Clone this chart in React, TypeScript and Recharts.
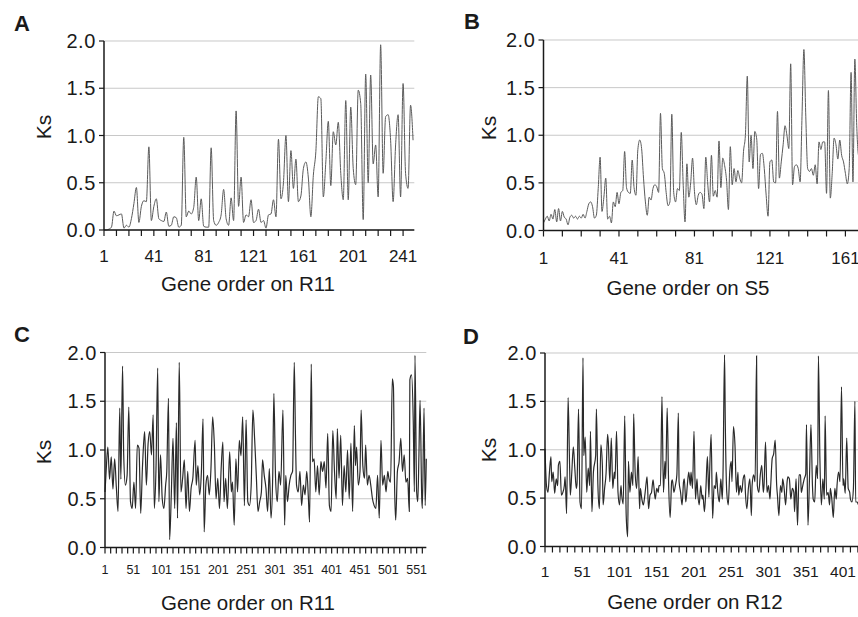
import { LineChart, Line, XAxis, YAxis, CartesianGrid } from "recharts"

const FONT = '"Liberation Sans", Arial, Helvetica, sans-serif'
const INK = "#1a1a1a"

type Pt = [number, number]

// [gene order, Ks]
const ksA: Pt[] = [
    [1, 0], [3, 0], [5, 0.01], [7, 0.03], [9, 0.2], [11, 0.15], [13, 0.16], [15, 0.17], [17, 0.02], [19, 0.05],
    [21, 0.03], [23, 0.12], [25, 0.28], [27, 0.45], [29, 0.08], [31, 0.25], [33, 0.31], [35, 0.3], [37, 0.88], [39, 0.1],
    [41, 0.25], [43, 0.33], [45, 0.12], [47, 0.1], [49, 0.09], [51, 0.19], [53, 0.04], [55, 0.05], [57, 0.14], [59, 0.13],
    [61, 0.03], [63, 0.05], [65, 0.98], [67, 0.14], [69, 0.2], [71, 0.17], [73, 0.24], [75, 0.56], [77, 0.1], [79, 0.33],
    [81, 0.04], [83, 0.03], [85, 0.03], [87, 0.87], [89, 0.1], [91, 0.05], [93, 0.08], [95, 0.16], [97, 0.43], [99, 0.12],
    [101, 0.05], [103, 0.34], [105, 0.1], [107, 1.26], [109, 0.25], [111, 0.56], [113, 0.08], [115, 0.16], [117, 0.14], [119, 0.32],
    [121, 0.08], [123, 0.1], [125, 0.22], [127, 0.08], [129, 0.1], [131, 0.02], [133, 0.16], [135, 0.17], [137, 0.32], [139, 0.14],
    [141, 0.96], [143, 0.33], [145, 0.5], [147, 1.0], [149, 0.3], [151, 0.84], [153, 0.44], [155, 0.75], [157, 0.3], [159, 0.36],
    [161, 0.65], [163, 0.72], [165, 0.55], [167, 0.14], [169, 0.58], [171, 0.83], [173, 1.41], [175, 1.39], [177, 0.35], [179, 0.72],
    [181, 1.15], [183, 0.47], [185, 1.04], [187, 0.9], [189, 1.14], [191, 0.6], [193, 0.32], [195, 1.37], [197, 0.32], [199, 1.3],
    [201, 0.65], [203, 0.48], [205, 1.48], [207, 1.34], [209, 0.11], [211, 1.65], [213, 0.5], [215, 1.64], [217, 0.7], [219, 0.9],
    [221, 0.35], [223, 1.96], [225, 0.6], [227, 1.2], [229, 1.22], [231, 0.95], [233, 0.3], [235, 0.9], [237, 1.22], [239, 0.35],
    [241, 1.55], [243, 0.6], [245, 0.44], [247, 1.32], [249, 0.95],
]

const ksB: Pt[] = [
    [1, 0.08], [2, 0.12], [3, 0.15], [4, 0.1], [5, 0.17], [6, 0.12], [7, 0.22], [8, 0.09], [9, 0.23], [10, 0.1],
    [11, 0.2], [12, 0.14], [13, 0.12], [14, 0.06], [15, 0.14], [16, 0.16], [17, 0.13], [18, 0.15], [19, 0.12], [20, 0.15],
    [21, 0.13], [22, 0.17], [23, 0.13], [24, 0.2], [25, 0.28], [26, 0.3], [27, 0.25], [28, 0.13], [29, 0.16], [30, 0.44],
    [31, 0.77], [32, 0.2], [33, 0.35], [34, 0.55], [35, 0.12], [36, 0.15], [37, 0.08], [38, 0.3], [39, 0.25], [40, 0.4],
    [41, 0.28], [42, 0.4], [43, 0.42], [44, 0.83], [45, 0.45], [46, 0.4], [47, 0.39], [48, 0.74], [49, 0.45], [50, 0.37],
    [51, 0.85], [52, 0.95], [53, 0.86], [54, 0.55], [55, 0.3], [56, 0.16], [57, 0.35], [58, 0.32], [59, 0.44], [60, 0.48],
    [61, 0.46], [62, 0.4], [63, 1.23], [64, 0.65], [65, 0.6], [66, 0.4], [67, 0.26], [68, 0.3], [69, 1.22], [70, 0.4],
    [71, 0.3], [72, 0.44], [73, 0.42], [74, 1.03], [75, 0.5], [76, 0.09], [77, 0.7], [78, 0.35], [79, 0.5], [80, 0.76],
    [81, 0.41], [82, 0.27], [83, 0.37], [84, 0.4], [85, 0.38], [86, 0.23], [87, 0.77], [88, 0.5], [89, 0.3], [90, 0.79],
    [91, 0.36], [92, 0.42], [93, 0.35], [94, 0.94], [95, 0.45], [96, 0.76], [97, 0.68], [98, 0.53], [99, 0.22], [100, 0.88],
    [101, 0.48], [102, 0.65], [103, 0.51], [104, 0.63], [105, 0.55], [106, 0.5], [107, 0.83], [108, 1.0], [109, 1.62], [110, 0.72],
    [111, 1.0], [112, 0.65], [113, 1.04], [114, 0.96], [115, 0.44], [116, 0.8], [117, 0.81], [118, 0.65], [119, 0.37], [120, 0.15],
    [121, 0.72], [122, 0.74], [123, 0.51], [124, 0.5], [125, 1.25], [126, 0.55], [127, 0.72], [128, 0.9], [129, 1.1], [130, 1.0],
    [131, 0.86], [132, 1.75], [133, 0.48], [134, 0.67], [135, 0.69], [136, 0.65], [137, 0.51], [138, 1.2], [139, 1.9], [140, 1.2],
    [141, 0.65], [142, 0.62], [143, 0.65], [144, 0.58], [145, 0.69], [146, 0.49], [147, 0.93], [148, 0.85], [149, 0.93], [150, 0.93],
    [151, 0.39], [152, 1.47], [153, 0.34], [154, 0.6], [155, 0.97], [156, 0.9], [157, 0.75], [158, 0.95], [159, 0.79], [160, 0.72],
    [161, 0.6], [162, 0.49], [163, 0.65], [164, 1.66], [165, 0.51], [166, 1.8], [167, 1.1], [168, 0.79], [169, 0.9], [170, 0.85],
]

const ksC: Pt[] = [
    [1, 0.57], [3, 0.78], [6, 1.03], [9, 0.7], [12, 0.93], [15, 0.6], [18, 0.91], [21, 0.62], [24, 0.37], [27, 1.43],
    [29, 0.7], [32, 1.86], [34, 0.95], [37, 0.64], [40, 0.74], [43, 1.44], [46, 0.47], [49, 0.4], [52, 0.67], [55, 0.4],
    [58, 1.05], [61, 1.02], [64, 0.35], [67, 0.81], [69, 1.05], [71, 1.19], [74, 0.64], [77, 1.06], [80, 1.19], [83, 0.95],
    [86, 1.36], [88, 0.4], [91, 0.81], [94, 1.84], [96, 0.47], [99, 0.95], [102, 0.5], [105, 0.4], [108, 0.64], [110, 0.78],
    [113, 1.53], [115, 0.08], [118, 0.54], [121, 1.12], [124, 0.4], [127, 1.28], [129, 0.3], [132, 1.9], [135, 0.57], [138, 0.71],
    [141, 0.9], [144, 0.4], [147, 0.78], [150, 0.37], [153, 0.61], [156, 0.71], [160, 1.1], [162, 0.64], [165, 0.84], [168, 0.54],
    [171, 0.76], [174, 1.32], [176, 0.16], [179, 0.64], [182, 0.74], [185, 0.54], [188, 0.81], [191, 1.34], [194, 1.05], [197, 0.5],
    [200, 0.71], [203, 0.4], [206, 0.81], [209, 1.08], [211, 0.47], [214, 0.71], [217, 0.4], [221, 0.98], [224, 0.57], [226, 0.67],
    [229, 0.23], [232, 0.91], [235, 0.57], [238, 1.1], [241, 0.94], [244, 1.34], [247, 0.43], [250, 1.31], [253, 0.47], [256, 0.43],
    [259, 0.64], [262, 1.41], [265, 1.12], [268, 0.74], [271, 0.37], [274, 0.47], [277, 0.57], [279, 0.9], [282, 0.74], [285, 0.61],
    [288, 0.37], [291, 0.81], [294, 0.3], [297, 0.74], [299, 1.58], [302, 0.71], [305, 0.47], [308, 0.78], [311, 0.64], [315, 1.41],
    [318, 0.23], [320, 0.74], [323, 0.47], [326, 0.64], [329, 0.74], [332, 0.78], [335, 1.9], [337, 1.19], [339, 0.64], [342, 0.57],
    [345, 0.78], [348, 0.43], [351, 0.64], [354, 0.54], [357, 0.78], [360, 0.5], [362, 0.26], [365, 1.88], [367, 0.88], [370, 0.91],
    [373, 0.57], [376, 0.84], [379, 0.54], [382, 0.88], [385, 0.78], [388, 0.88], [391, 0.61], [394, 1.17], [397, 0.43], [400, 0.37],
    [403, 1.2], [406, 0.78], [409, 0.5], [411, 1.22], [414, 0.71], [417, 1.15], [420, 0.43], [423, 0.84], [426, 0.57], [429, 1.0],
    [432, 0.5], [435, 1.07], [438, 0.37], [441, 1.25], [443, 0.84], [445, 1.03], [448, 0.64], [451, 0.78], [453, 1.41], [456, 0.84],
    [459, 0.71], [461, 1.05], [464, 0.64], [467, 0.74], [470, 0.64], [473, 0.5], [476, 0.43], [479, 0.4], [482, 0.74], [485, 0.3],
    [488, 1.1], [491, 0.64], [494, 0.74], [497, 0.57], [500, 0.78], [502, 0.71], [505, 0.67], [508, 1.73], [510, 1.65], [512, 0.64],
    [514, 0.28], [517, 0.78], [520, 0.88], [523, 1.12], [526, 0.78], [529, 0.95], [532, 0.67], [535, 0.71], [538, 0.37], [539, 1.72],
    [542, 1.77], [545, 1.29], [547, 0.57], [548, 1.97], [551, 0.57], [553, 0.47], [555, 0.95], [557, 1.51], [560, 0.5], [561, 0.4],
    [564, 1.43], [566, 0.43], [568, 0.91],
]

const ksD: Pt[] = [
    [1, 1.01], [3, 0.63], [5, 0.56], [7, 0.77], [9, 0.93], [10, 0.67], [12, 0.77], [14, 0.55], [16, 0.7], [18, 0.63],
    [19, 0.84], [21, 0.88], [23, 0.53], [25, 0.56], [27, 0.63], [28, 0.72], [30, 0.34], [32, 1.54], [34, 0.84], [35, 0.53],
    [37, 0.77], [39, 1.03], [41, 0.81], [43, 0.6], [44, 0.65], [46, 1.42], [48, 0.46], [50, 0.39], [52, 1.95], [53, 0.94],
    [55, 1.13], [57, 0.56], [59, 0.81], [61, 0.63], [62, 1.19], [64, 0.36], [66, 0.77], [69, 0.94], [70, 1.42], [72, 0.63],
    [74, 0.39], [76, 1.05], [78, 0.84], [79, 0.43], [81, 0.6], [83, 0.76], [85, 1.16], [86, 1.08], [88, 0.67], [90, 1.12],
    [92, 0.6], [94, 0.77], [95, 0.7], [97, 1.19], [99, 0.56], [101, 0.43], [103, 0.63], [104, 0.53], [106, 0.44], [108, 1.35],
    [110, 0.32], [112, 0.1], [113, 0.88], [115, 0.56], [117, 0.77], [119, 0.63], [120, 1.37], [122, 0.77], [124, 0.6], [126, 0.93],
    [128, 0.39], [129, 0.6], [131, 0.49], [133, 0.43], [135, 0.53], [137, 0.67], [138, 0.72], [140, 0.39], [142, 0.53], [144, 0.56],
    [146, 0.69], [147, 0.63], [149, 0.49], [151, 0.6], [153, 0.56], [154, 0.63], [156, 0.63], [158, 1.55], [160, 0.56], [162, 0.88],
    [163, 0.7], [165, 1.43], [167, 0.63], [169, 0.3], [171, 0.67], [172, 0.69], [174, 0.56], [176, 0.63], [178, 0.74], [180, 1.38],
    [181, 0.67], [183, 0.56], [185, 0.43], [187, 0.67], [188, 0.7], [190, 0.46], [192, 0.63], [194, 0.77], [196, 0.63], [197, 0.77],
    [199, 0.6], [201, 1.19], [203, 0.49], [205, 0.7], [206, 0.56], [208, 0.43], [210, 0.63], [212, 0.49], [213, 0.53], [215, 0.36],
    [217, 0.6], [219, 0.93], [221, 0.51], [222, 0.77], [224, 1.16], [226, 0.29], [228, 0.63], [230, 0.6], [231, 0.77], [233, 0.56],
    [235, 0.46], [237, 0.7], [239, 0.49], [240, 0.77], [242, 1.98], [243, 1.29], [245, 0.56], [247, 0.43], [249, 0.77], [251, 0.88],
    [252, 0.67], [254, 1.24], [256, 1.05], [258, 0.56], [260, 0.77], [261, 0.53], [263, 0.63], [265, 0.56], [267, 0.7], [269, 0.74],
    [270, 0.56], [272, 0.39], [274, 0.6], [276, 0.7], [278, 0.32], [279, 0.63], [281, 0.74], [283, 0.67], [285, 1.97], [286, 0.63],
    [288, 0.56], [290, 0.74], [292, 0.84], [294, 0.56], [295, 0.63], [297, 1.08], [299, 0.56], [301, 0.63], [303, 0.49], [304, 0.63],
    [306, 0.91], [308, 0.96], [310, 1.1], [312, 0.63], [313, 0.53], [315, 0.32], [317, 0.63], [319, 0.56], [320, 0.7], [322, 0.6],
    [324, 0.43], [326, 0.67], [327, 0.72], [329, 0.7], [331, 0.49], [333, 0.6], [335, 0.56], [336, 0.36], [338, 0.7], [340, 0.22],
    [342, 0.74], [344, 0.74], [345, 0.56], [347, 0.63], [349, 0.7], [351, 0.75], [352, 1.26], [354, 0.22], [356, 0.7], [358, 1.26],
    [360, 0.63], [361, 0.49], [363, 0.46], [365, 0.84], [367, 0.7], [368, 1.97], [370, 0.91], [372, 0.43], [374, 0.7], [376, 0.49],
    [377, 1.35], [379, 0.53], [381, 0.56], [383, 0.43], [384, 0.6], [386, 0.49], [388, 0.3], [390, 0.6], [392, 0.49], [393, 0.63],
    [395, 0.77], [397, 0.67], [399, 1.65], [401, 0.63], [402, 0.7], [404, 0.55], [406, 1.12], [408, 0.6], [410, 0.56], [411, 0.49],
    [413, 0.46], [415, 0.6], [417, 1.5], [418, 0.46], [420, 0.46], [422, 0.43], [424, 0.55], [426, 0.6],
]

const KS_TICKS = [0, 0.5, 1, 1.5, 2]
const LABELS_40 = [1, 41, 81, 121, 161, 201, 241]
const LABELS_50 = [1, 51, 101, 151, 201, 251, 301, 351, 401, 451, 501, 551]

interface PanelSpec {
    letter: string
    title: string
    data: Pt[]
    xMax: number
    labels: number[]
    stroke: string
    strokeWidth: number
    left: number
    top: number
    x0: number
    x1: number
    y0: number
    y1: number
    xFont: number
    xGap: number
    letterAt: [number, number]
    ksAt: [number, number]
    titleAt: [number, number]
}

const PANELS: PanelSpec[] = [
    {
        letter: "A", title: "Gene order on R11", data: ksA, xMax: 250, labels: LABELS_40, stroke: "#5a5a5a", strokeWidth: 1,
        left: 0, top: 20, x0: 104, x1: 414.3, y0: 41, y1: 230, xFont: 17, xGap: 14,
        letterAt: [22, 24], ksAt: [43, 127], titleAt: [248, 284],
    },
    {
        letter: "B", title: "Gene order on S5", data: ksB, xMax: 170, labels: LABELS_40, stroke: "#5a5a5a", strokeWidth: 1,
        left: 440, top: 20, x0: 543.5, x1: 862.4, y0: 40, y1: 230.5, xFont: 17, xGap: 15,
        letterAt: [472, 22], ksAt: [488, 128], titleAt: [688, 288],
    },
    {
        letter: "C", title: "Gene order on R11", data: ksC, xMax: 568, labels: LABELS_50, stroke: "#2a2a2a", strokeWidth: 1.2,
        left: 0, top: 330, x0: 105, x1: 426.3, y0: 352.5, y1: 547.5, xFont: 12.5, xGap: 12,
        letterAt: [22, 335], ksAt: [43, 452], titleAt: [248, 603],
    },
    {
        letter: "D", title: "Gene order on R12", data: ksD, xMax: 430, labels: LABELS_50, stroke: "#2a2a2a", strokeWidth: 1.2,
        left: 440, top: 330, x0: 545, x1: 864.6, y0: 353, y1: 546.5, xFont: 15.5, xGap: 13,
        letterAt: [471, 337], ksAt: [488, 450], titleAt: [695, 602],
    },
]

const centered = (x: number, y: number, extra: string = ""): React.CSSProperties => ({
    position: "absolute",
    left: x,
    top: y,
    transform: `translate(-50%, -50%) ${extra}`,
    whiteSpace: "nowrap",
    lineHeight: 1,
    color: INK,
    fontFamily: FONT,
})

function Panel({ s }: { s: PanelSpec }) {
    const width = s.x1 + 10 - s.left
    const height = s.y1 + 40 - s.top
    const rows = s.data.map(([gene, ks]) => ({ gene, ks }))
    const minorTicks: number[] = []
    for (let v = 1; v <= s.xMax; v += 10) minorTicks.push(v)

    return (
        <>
            <div style={{ position: "absolute", left: s.left, top: s.top }}>
                <LineChart
                    width={width}
                    height={height}
                    data={rows}
                    margin={{ top: s.y0 - s.top, right: 10, bottom: 0, left: 0 }}
                    style={{ fontFamily: FONT }}
                >
                    <CartesianGrid horizontal vertical={false} stroke="#c8c8c8" />
                    <XAxis
                        dataKey="gene"
                        type="number"
                        domain={[1, s.xMax]}
                        ticks={minorTicks}
                        interval={0}
                        height={40}
                        tickFormatter={(v) => (s.labels.includes(v) ? String(v) : "")}
                        tick={{ fontSize: s.xFont, fill: INK }}
                        tickSize={6}
                        tickMargin={s.xGap}
                        axisLine={{ stroke: INK, strokeWidth: 1.5 }}
                        tickLine={{ stroke: INK, strokeWidth: 1.2 }}
                    />
                    <YAxis
                        type="number"
                        domain={[0, 2]}
                        ticks={KS_TICKS}
                        interval={0}
                        width={s.x0 - s.left}
                        tickFormatter={(v) => v.toFixed(1)}
                        tick={{ fontSize: 20, fill: INK, letterSpacing: 0.6 }}
                        tickSize={5}
                        tickMargin={3}
                        axisLine={{ stroke: INK, strokeWidth: 1.5 }}
                        tickLine={{ stroke: INK, strokeWidth: 1.2 }}
                    />
                    <Line
                        type="monotone"
                        dataKey="ks"
                        stroke={s.stroke}
                        strokeWidth={s.strokeWidth}
                        dot={false}
                        isAnimationActive={false}
                    />
                </LineChart>
            </div>
            <div style={{ ...centered(s.letterAt[0], s.letterAt[1]), fontSize: 22, fontWeight: 700 }}>{s.letter}</div>
            <div style={{ ...centered(s.ksAt[0], s.ksAt[1], "rotate(-90deg)"), fontSize: 21 }}>Ks</div>
            <div style={{ ...centered(s.titleAt[0], s.titleAt[1]), fontSize: 20.5 }}>{s.title}</div>
        </>
    )
}

export default function App() {
    return (
        <div
            style={{
                position: "fixed",
                left: 0,
                top: 0,
                width: 858,
                height: 617,
                overflow: "hidden",
                background: "#fff",
            }}
        >
            {PANELS.map((s) => (
                <Panel key={s.letter} s={s} />
            ))}
        </div>
    )
}
